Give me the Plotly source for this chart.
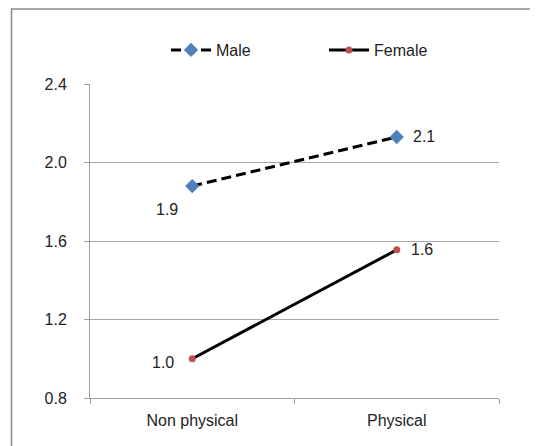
import plotly.graph_objects as go

categories = ["Non physical", "Physical"]
male = [1.88, 2.13]
female = [1.00, 1.555]
y_ticks = [0.8, 1.2, 1.6, 2.0, 2.4]

font = dict(family="Liberation Sans, Arial, sans-serif", size=16, color="#222222")

fig = go.Figure()
fig.add_trace(go.Scatter(
    x=categories, y=male, name="Male", mode="lines+markers",
    line=dict(color="black", width=3, dash="10px,5px"),
    marker=dict(symbol="diamond", size=11, color="#4F81BD"),
))
fig.add_trace(go.Scatter(
    x=categories, y=female, name="Female", mode="lines+markers",
    line=dict(color="black", width=3),
    marker=dict(symbol="circle", size=7, color="#C0504D"),
))

# data labels (offsets are styling only)
label_offsets = {
    "Male": [(-25, -23), (27, 0)],
    "Female": [(-29, -4), (25, 0)],
}
annotations = []
for name, vals in (("Male", male), ("Female", female)):
    for i, (cat, v) in enumerate(zip(categories, vals)):
        dx, dy = label_offsets[name][i]
        annotations.append(dict(x=cat, y=v, text=f"{v:.1f}", showarrow=False,
                                xshift=dx, yshift=dy, font=font))

# page body adds an 8px offset, so the figure is laid out 8px smaller
W, H = 530, 438
L, R, T, B = 82, 39, 76, 48
pw, ph = W - L - R, H - T - B

fig.update_layout(
    width=W, height=H,
    margin=dict(l=L, r=R, t=T, b=B, autoexpand=False),
    paper_bgcolor="white", plot_bgcolor="white",
    font=font,
    showlegend=True,
    legend=dict(orientation="h", x=(158 - L) / pw, y=1.0 + 34 / ph, xanchor="left", yanchor="middle",
                font=font, itemwidth=40, traceorder="normal", bgcolor="rgba(0,0,0,0)",
                entrywidth=103, entrywidthmode="pixels"),
    xaxis=dict(type="category", range=[-0.5, 1.5], showgrid=False,
               showline=True, linecolor="#a0a0a0", linewidth=1,
               ticks="outside", tickson="boundaries", ticklen=5, tickcolor="#a0a0a0",
               tickfont=font, ticklabelstandoff=8),
    yaxis=dict(range=[0.8, 2.4], tickvals=y_ticks, ticktext=[f"{v:.1f}" for v in y_ticks],
               showgrid=True, gridcolor="#a6a6a6", gridwidth=1,
               showline=True, linecolor="#a0a0a0", linewidth=1,
               ticks="outside", ticklen=5, tickcolor="#a0a0a0",
               tickfont=font, zeroline=False, ticklabelstandoff=14),
    annotations=annotations,
    shapes=[dict(type="rect", xref="paper", yref="paper",
                 x0=(3.5 - L) / pw, x1=(529 - L) / pw,
                 y0=-(B + 10) / ph, y1=1 + (T - 1) / ph,
                 line=dict(color="#8c8c8c", width=1.5), fillcolor="rgba(0,0,0,0)", layer="below")],
)
fig.write_html("out.html")
